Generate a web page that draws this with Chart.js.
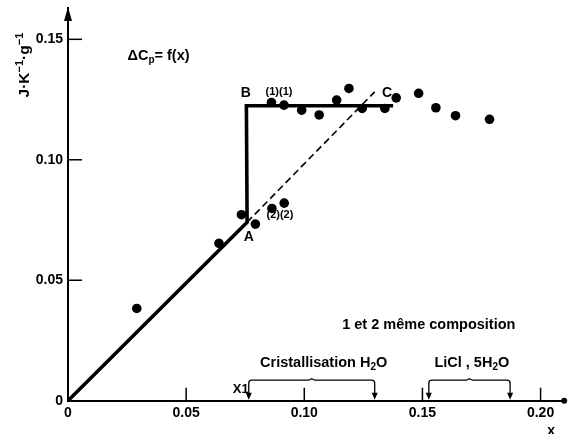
<!DOCTYPE html>
<html><head><meta charset="utf-8">
<script src="https://cdn.jsdelivr.net/npm/chart.js@4/dist/chart.umd.min.js"></script>
<style>html,body{margin:0;padding:0;background:#fff}</style>
</head><body>
<canvas id="c" width="569" height="434" style="width:569px;height:434px;display:block"></canvas>
<script>
// ---- data ----
const pointX = [0.0291, 0.0639, 0.0734, 0.0793, 0.0863, 0.0915, 0.0861, 0.0914, 0.0989, 0.1063, 0.1137, 0.1189, 0.1245, 0.1341, 0.1389, 0.1484, 0.1557, 0.1640, 0.1784];
const pointY = [0.0383, 0.0653, 0.0772, 0.0733, 0.0798, 0.0820, 0.1238, 0.1227, 0.1206, 0.1186, 0.1248, 0.1296, 0.1213, 0.1213, 0.1257, 0.1276, 0.1216, 0.1183, 0.1168];
const solidX = [0, 0.0758, 0.0755, 0.1376];
const solidY = [0, 0.0741, 0.1224, 0.1224];
const dashX = [0.0758, 0.1298];
const dashY = [0.0741, 0.1282];
const xTickValues = [0, 0.05, 0.10, 0.15, 0.20];
const xTickLabels = ['0', '0.05', '0.10', '0.15', '0.20'];
const yTickValues = [0, 0.05, 0.10, 0.15];
const yTickLabels = ['0', '0.05', '0.10', '0.15'];
const bracketStart = [0.0765, 0.1527];
const bracketEnd = [0.1298, 0.1871];
const bracketTop = 0.0085;

const FONT = "'Liberation Sans', Arial, sans-serif";
Chart.defaults.font.family = FONT;
Chart.defaults.color = '#000';

// annotation texts (parts with optional sub/sup)
const notes = [
  {parts: [{t: 'ΔC'}, {t: 'p', sub: true}, {t: '= f(x)'}], x: 0.0252, y: 0.1432, align: 'left', size: 14.5},
  {parts: [{t: 'B'}], x: 0.0752, y: 0.1277, align: 'center', size: 14},
  {parts: [{t: '(1)(1)'}], x: 0.0893, y: 0.1283, align: 'center', size: 11},
  {parts: [{t: 'C'}], x: 0.1350, y: 0.1277, align: 'center', size: 14},
  {parts: [{t: 'A'}], x: 0.0765, y: 0.0680, align: 'center', size: 14},
  {parts: [{t: '(2)(2)'}], x: 0.0897, y: 0.0770, align: 'center', size: 11},
  {parts: [{t: '1 et 2 même composition'}], x: 0.1527, y: 0.0314, align: 'center', size: 14.5},
  {parts: [{t: 'Cristallisation H'}, {t: '2', sub: true}, {t: 'O'}], x: 0.1082, y: 0.0157, align: 'center', size: 14.5},
  {parts: [{t: 'LiCl , 5H'}, {t: '2', sub: true}, {t: 'O'}], x: 0.1709, y: 0.0157, align: 'center', size: 14.5},
  {parts: [{t: 'X1'}], x: 0.0731, y: 0.0045, align: 'center', size: 13},
  {parts: [{t: 'x'}], x: 0.2045, y: -0.0128, align: 'center', size: 14}
];
const yTitleParts = [{t: 'J·K'}, {t: '−1', sup: true}, {t: '·g'}, {t: '−1', sup: true}];

function richWidth(ctx, parts, size) {
  let w = 0;
  parts.forEach(p => {
    ctx.font = 'bold ' + (p.sub || p.sup ? Math.round(size * 0.7) : size) + 'px ' + FONT;
    w += ctx.measureText(p.t).width;
  });
  return w;
}
function drawRich(ctx, parts, x, y, size, align) {
  const w = richWidth(ctx, parts, size);
  let cx = align === 'left' ? x : x - w / 2;
  ctx.textBaseline = 'middle';
  ctx.textAlign = 'left';
  parts.forEach(p => {
    const s = p.sub || p.sup ? Math.round(size * 0.7) : size;
    ctx.font = 'bold ' + s + 'px ' + FONT;
    const dy = p.sub ? size * 0.3 : (p.sup ? -size * 0.35 : 0);
    ctx.fillText(p.t, cx, y + dy);
    cx += ctx.measureText(p.t).width;
  });
}

const decor = {
  id: 'decor',
  afterDatasetsDraw(chart) {
    const {ctx, scales: {x, y}} = chart;
    const x0 = x.getPixelForValue(0), y0 = y.getPixelForValue(0);
    ctx.save();
    ctx.strokeStyle = '#000';
    ctx.fillStyle = '#000';
    // inside tick marks
    ctx.lineWidth = 1.5;
    xTickValues.forEach(v => {
      if (v === 0) return;
      const px = x.getPixelForValue(v);
      ctx.beginPath(); ctx.moveTo(px, y0); ctx.lineTo(px, y0 - 13); ctx.stroke();
    });
    yTickValues.forEach(v => {
      if (v === 0) return;
      const py = y.getPixelForValue(v);
      ctx.beginPath(); ctx.moveTo(x0, py); ctx.lineTo(x0 + 14, py); ctx.stroke();
    });
    // arrow at top of y axis
    const yt = chart.chartArea.top;
    ctx.beginPath();
    ctx.moveTo(x0, yt - 1); ctx.lineTo(x0 - 4, yt + 13); ctx.lineTo(x0 + 4, yt + 13); ctx.closePath(); ctx.fill();
    // dot at end of x axis
    ctx.beginPath(); ctx.arc(chart.chartArea.right, y0, 3, 0, Math.PI * 2); ctx.fill();
    // brackets
    ctx.lineWidth = 1.3;
    const ytop = y.getPixelForValue(bracketTop);
    bracketStart.forEach((s, i) => {
      const xs = x.getPixelForValue(s), xe = x.getPixelForValue(bracketEnd[i]);
      const mid = (xs + xe) / 2;
      ctx.beginPath();
      ctx.moveTo(xs, y0 - 6);
      ctx.lineTo(xs, ytop + 3);
      ctx.quadraticCurveTo(xs, ytop, xs + 3, ytop);
      ctx.lineTo(mid - 3, ytop);
      ctx.lineTo(mid, ytop - 1.5);
      ctx.lineTo(mid + 3, ytop);
      ctx.lineTo(xe - 3, ytop);
      ctx.quadraticCurveTo(xe, ytop, xe, ytop + 3);
      ctx.lineTo(xe, y0 - 6);
      ctx.stroke();
      [xs, xe].forEach(ax => {
        ctx.beginPath();
        ctx.moveTo(ax, y0 - 1); ctx.lineTo(ax - 3, y0 - 8); ctx.lineTo(ax + 3, y0 - 8); ctx.closePath(); ctx.fill();
      });
    });
    // annotations
    notes.forEach(n => {
      drawRich(ctx, n.parts, x.getPixelForValue(n.x), y.getPixelForValue(n.y), n.size, n.align);
    });
    // y axis title (rotated)
    ctx.translate(25, y.getPixelForValue(0.1393));
    ctx.rotate(-Math.PI / 2);
    drawRich(ctx, yTitleParts, 0, 0, 15.5, 'center');
    ctx.restore();
  }
};

new Chart(document.getElementById('c'), {
  type: 'scatter',
  data: {
    datasets: [
      {data: pointX.map((v, i) => ({x: v, y: pointY[i]})), pointRadius: 4.8, pointHoverRadius: 4.8,
       backgroundColor: '#000', borderColor: '#000', borderWidth: 0, showLine: false},
      {data: solidX.map((v, i) => ({x: v, y: solidY[i]})), showLine: true, borderColor: '#000',
       borderWidth: 3.6, pointRadius: 0, tension: 0, borderJoinStyle: 'miter'},
      {data: dashX.map((v, i) => ({x: v, y: dashY[i]})), showLine: true, borderColor: '#000',
       borderWidth: 1.6, borderDash: [7, 4], pointRadius: 0, tension: 0}
    ]
  },
  options: {
    responsive: false,
    animation: false,
    events: [],
    layout: {padding: {top: 8, right: 2, left: 0, bottom: 0}},
    plugins: {legend: {display: false}, tooltip: {enabled: false}},
    scales: {
      x: {
        type: 'linear', min: 0, max: 0.21,
        grid: {display: false, drawTicks: false},
        border: {display: true, color: '#000', width: 2},
        ticks: {padding: 4, font: {size: 14, weight: 'bold'}, color: '#000',
                callback: v => xTickLabels[xTickValues.indexOf(v)] ?? ''},
        afterBuildTicks: s => { s.ticks = xTickValues.map(v => ({value: v})); },
        afterFit: s => { s.height = 33.3; s.paddingLeft = 0; s.paddingRight = 0; }
      },
      y: {
        type: 'linear', min: 0, max: 0.163,
        grid: {display: false, drawTicks: false},
        border: {display: true, color: '#000', width: 2},
        ticks: {padding: 5, font: {size: 14, weight: 'bold'}, color: '#000',
                callback: v => yTickLabels[yTickValues.indexOf(v)] ?? ''},
        afterBuildTicks: s => { s.ticks = yTickValues.map(v => ({value: v})); },
        afterFit: s => { s.width = 68; s.paddingTop = 0; s.paddingBottom = 0; }
      }
    }
  },
  plugins: [decor]
});
</script>
</body></html>
